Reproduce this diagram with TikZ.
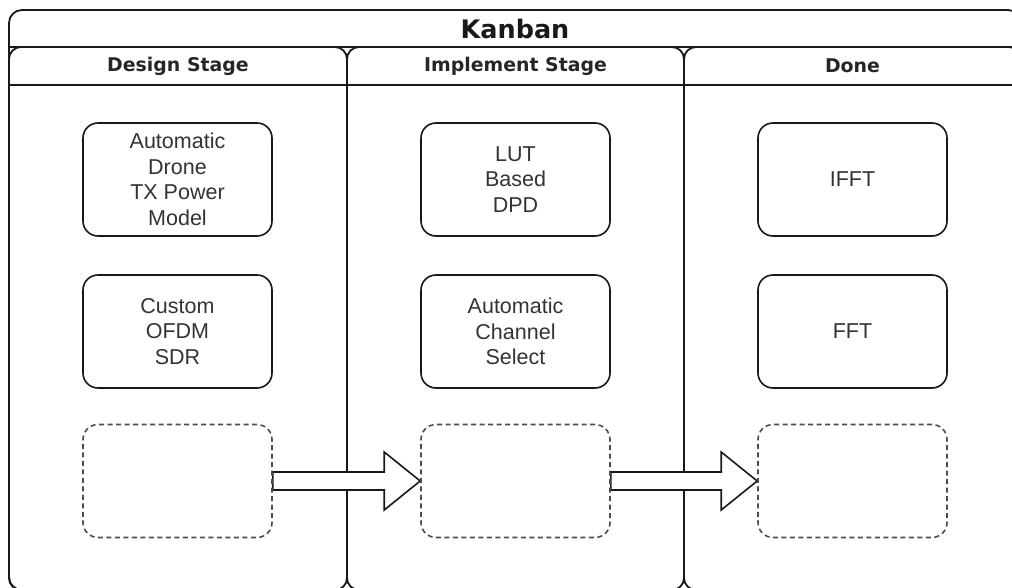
\documentclass[tikz,border=0pt]{standalone}
\usepackage{fontspec}
\setmainfont{Liberation Sans}
\newfontfamily\hdrfont{DejaVu Sans}
\usetikzlibrary{calc}
\pgfdeclarelayer{front}
\pgfsetlayers{main,front}
\begin{document}
\begin{tikzpicture}[x=1pt,y=-1pt,
  frame/.style={draw=black!90,line width=1.8pt},
  titletext/.style={font=\hdrfont\bfseries\fontsize{25.5}{30}\selectfont,text=black!90,inner sep=0pt},
  lanetext/.style={font=\hdrfont\bfseries\fontsize{18.9}{22}\selectfont,text=black!85,inner sep=0pt},
  card/.style={draw=black!90,line width=1.6pt,rounded corners=15pt,minimum width=189pt,minimum height=113pt,align=center,font=\fontsize{21.5}{25.6}\selectfont,text=black!80,inner sep=0pt,fill=white},
  emptycard/.style={card,fill=none,draw=black!70,dash pattern=on 5pt off 3.5pt},
  blockarrow/.style={draw=black!90,line width=1.6pt,fill=white,line join=miter}
]
\useasboundingbox (0,0) rectangle (1012,588);
\clip (0,0) rectangle (1012,588);

% pool
\draw[frame,rounded corners=13pt] (9,10) rectangle (1021,590);
\draw[frame] (9,47) -- (1021,47);
\node[titletext] (title) at (515,29) {Kanban};

% lanes
\draw[frame,rounded corners=12pt] (9,47) rectangle (347,590);
\draw[frame,rounded corners=12pt] (347,47) rectangle (684,590);
\draw[frame,rounded corners=12pt] (684,47) rectangle (1021,590);
\draw[frame] (9,85) -- (1021,85);
\node[lanetext] (l1) at (178,66) {Design Stage};
\node[lanetext] (l2) at (515.5,66) {Implement Stage};
\node[lanetext] (l3) at (852.5,66) {Done};

% cards
\node[card] (a1) at (177.5,179.5) {Automatic\\Drone\\TX Power\\Model};
\node[card] (a2) at (177.5,331.5) {Custom\\OFDM\\SDR};
\node[card] (b1) at (515.5,179.5) {LUT\\Based\\DPD};
\node[card] (b2) at (515.5,331.5) {Automatic\\Channel\\Select};
\node[card] (c1) at (852.5,179.5) {IFFT};
\node[card] (c2) at (852.5,331.5) {FFT};
\begin{pgfonlayer}{front}
\node[emptycard] (a3) at (177.5,481) {};
\node[emptycard] (b3) at (515.5,481) {};
\node[emptycard] (c3) at (852.5,481) {};
\end{pgfonlayer}

% block arrows
\draw[blockarrow] ($(a3.east)+(0,-9)$) -- ($(b3.west)+(-36,-9)$) -- ($(b3.west)+(-36,-29)$)
  -- (b3.west) -- ($(b3.west)+(-36,29)$) -- ($(b3.west)+(-36,9)$) -- ($(a3.east)+(0,9)$) -- cycle;
\draw[blockarrow] ($(b3.east)+(0,-9)$) -- ($(c3.west)+(-36,-9)$) -- ($(c3.west)+(-36,-29)$)
  -- (c3.west) -- ($(c3.west)+(-36,29)$) -- ($(c3.west)+(-36,9)$) -- ($(b3.east)+(0,9)$) -- cycle;
\end{tikzpicture}
\end{document}
